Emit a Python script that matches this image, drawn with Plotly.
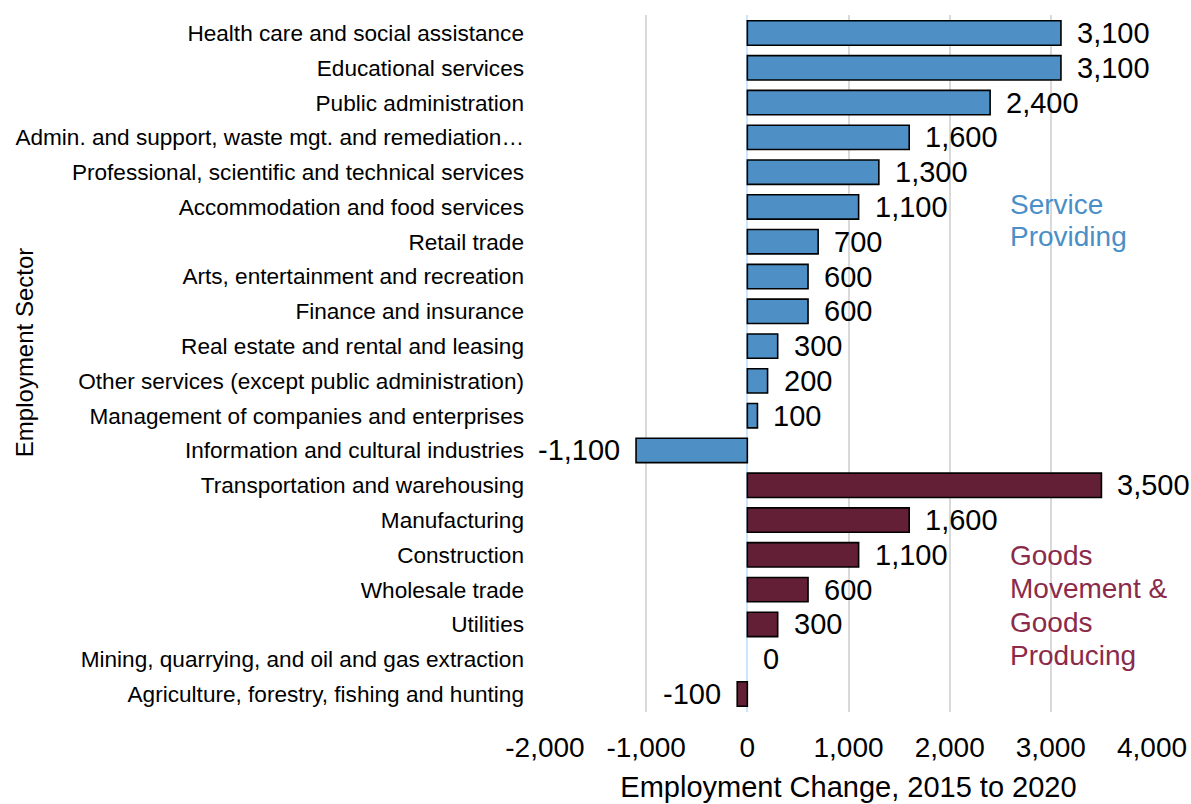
import plotly.graph_objects as go

# Employment change by sector, 2015 to 2020
service_sectors = [
    "Health care and social assistance",
    "Educational services",
    "Public administration",
    "Admin. and support, waste mgt. and remediation…",
    "Professional, scientific and technical services",
    "Accommodation and food services",
    "Retail trade",
    "Arts, entertainment and recreation",
    "Finance and insurance",
    "Real estate and rental and leasing",
    "Other services (except public administration)",
    "Management of companies and enterprises",
    "Information and cultural industries",
]
service_change = [3100, 3100, 2400, 1600, 1300, 1100, 700, 600, 600, 300, 200, 100, -1100]

goods_sectors = [
    "Transportation and warehousing",
    "Manufacturing",
    "Construction",
    "Wholesale trade",
    "Utilities",
    "Mining, quarrying, and oil and gas extraction",
    "Agriculture, forestry, fishing and hunting",
]
goods_change = [3500, 1600, 1100, 600, 300, 0, -100]

x_ticks = [-2000, -1000, 0, 1000, 2000, 3000, 4000]

service_caption = ["Service", "Providing"]
goods_caption = ["Goods", "Movement &", "Goods", "Producing"]

BLUE = "#4E90C6"
MAROON = "#621F35"
FONT = "Liberation Sans, Arial, sans-serif"

all_sectors = service_sectors + goods_sectors


def outline_widths(values):
    # no outline on zero-length bars
    return [0 if v == 0 else 1.6 for v in values]


fig = go.Figure()
fig.add_trace(go.Bar(
    y=service_sectors, x=service_change, orientation="h",
    marker=dict(color=BLUE, line=dict(color="#000000", width=outline_widths(service_change))),
    showlegend=False,
))
fig.add_trace(go.Bar(
    y=goods_sectors, x=goods_change, orientation="h",
    marker=dict(color=MAROON, line=dict(color="#000000", width=outline_widths(goods_change))),
    showlegend=False,
))

# value labels next to each bar end
for sec, val in zip(all_sectors, service_change + goods_change):
    fig.add_annotation(
        x=val, y=sec, xref="x", yref="y",
        text=f"{val:,}",
        showarrow=False,
        xanchor="right" if val < 0 else "left",
        xshift=-14 if val < 0 else 14,
        font=dict(family=FONT, size=29, color="#000000"),
    )

# group captions, one line per row so the line spacing stays tight
caption_x = 2580
service_anchor = service_sectors.index("Accommodation and food services")
for i, line in enumerate(service_caption):
    fig.add_annotation(
        x=caption_x, y=i + service_anchor, xref="x", yref="y",
        text=line, showarrow=False, xanchor="left",
        yshift=2 + 3 * i,
        font=dict(family=FONT, size=28, color="#4A8FC8"),
    )
goods_anchor = len(service_sectors) + goods_sectors.index("Construction")
for i, line in enumerate(goods_caption):
    fig.add_annotation(
        x=caption_x, y=i + goods_anchor, xref="x", yref="y",
        text=line, showarrow=False, xanchor="left",
        yshift=-1 + 1.7 * i,
        font=dict(family=FONT, size=28, color="#8B2A4A"),
    )

# y-axis title placed by hand so it can sit beside the shorter labels
fig.add_annotation(
    x=-0.857, y=0.516, xref="paper", yref="paper",
    text="Employment Sector", showarrow=False, textangle=-90,
    xanchor="center", yanchor="middle",
    font=dict(family=FONT, size=24, color="#000000"),
)

fig.update_layout(
    width=1191, height=804,
    margin=dict(l=545, r=39, t=15, b=92),
    paper_bgcolor="white", plot_bgcolor="white",
    bargap=0.3,
    font=dict(family=FONT, color="#000000"),
    xaxis=dict(
        range=[-2000, 4000], tickvals=x_ticks,
        ticktext=[f"{v:,}" for v in x_ticks],
        tickfont=dict(size=28), showgrid=True, gridcolor="#D9D9D9", gridwidth=1.5,
        zeroline=True, zerolinecolor="#CCE6FF", zerolinewidth=1.5,
        ticklabelstandoff=16, automargin=False,
        title=dict(text="Employment Change, 2015 to 2020", font=dict(size=29), standoff=14),
        ticks="", showline=False,
    ),
    yaxis=dict(
        categoryorder="array", categoryarray=all_sectors, autorange="reversed",
        tickfont=dict(size=22.6), ticks="", showline=False, showgrid=False,
        ticklabelstandoff=20, automargin=False,
    ),
)

fig.write_html("out.html")
